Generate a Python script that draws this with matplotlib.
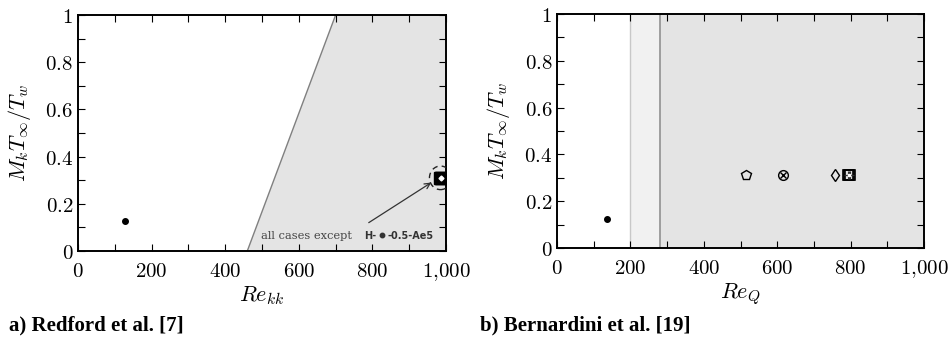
import matplotlib.pyplot as plt
from matplotlib.patches import Polygon, Ellipse
from matplotlib.ticker import MultipleLocator

plt.rcParams['mathtext.fontset'] = 'cm'

# data
xticks = [0, 200, 400, 600, 800, 1000]
xticklabels = ['0', '200', '400', '600', '800', '1{,}000']
yticks = [0, 0.2, 0.4, 0.6, 0.8, 1.0]
yticklabels = ['0', '0.2', '0.4', '0.6', '0.8', '1']

# Redford criterion boundary
redford_x = [460, 700]
redford_y = [0, 1]
redford_pts_x = [128]
redford_pts_y = [0.125]
redford_cluster_x = [983, 985, 987]
redford_cluster_y = [0.31, 0.31, 0.31]

# Bernardini criterion bounds
bern_low, bern_high = 200, 280
bern_pts_x = [135]
bern_pts_y = [0.125]
pent_x, pent_y = [515], [0.31]
otimes_x, otimes_y = [615], [0.31]
diam_x, diam_y = [757], [0.31]
bern_cluster_x = [792, 795, 798]
bern_cluster_y = [0.31, 0.31, 0.31]

fig = plt.figure(figsize=(9.49, 3.41), dpi=100)
ax1 = fig.add_axes([0.0822, 0.264, 0.3878, 0.692])
ax2 = fig.add_axes([0.587, 0.273, 0.3867, 0.686])


def style(ax, xlabel):
    ax.set_xlim(0, 1000)
    ax.set_ylim(0, 1)
    ax.set_xticks(xticks)
    ax.set_xticklabels(['$%s$' % t for t in xticklabels])
    ax.set_yticks(yticks)
    ax.set_yticklabels(['$%s$' % t for t in yticklabels])
    ax.xaxis.set_minor_locator(MultipleLocator(100))
    ax.yaxis.set_minor_locator(MultipleLocator(0.1))
    ax.tick_params(which='both', direction='in', top=True, right=True,
                   labelsize=15, width=0.8, length=5)
    ax.tick_params(axis='x', pad=7)
    for s in ax.spines.values():
        s.set_linewidth(1.4)
    ax.set_xlabel(xlabel, fontsize=16, labelpad=1)
    ax.set_ylabel(r'$M_k T_\infty / T_w$', fontsize=16, labelpad=9)


# panel a
poly = Polygon([(redford_x[0], redford_y[0]), (redford_x[1], redford_y[1]),
                (1000, 1), (1000, 0)], closed=True, facecolor='#e4e4e4',
               edgecolor='none', zorder=0)
ax1.add_patch(poly)
ax1.plot(redford_x, redford_y, color='#808080', lw=1.0, zorder=1)
ax1.plot(redford_pts_x, redford_pts_y, 'o', color='black', ms=4, zorder=3)
ax1.plot(redford_cluster_x, redford_cluster_y, 's', color='black', ms=8,
         mfc='black', zorder=3)
ax1.plot([985], [0.31], 'D', color='white', ms=2.5, zorder=4)
ax1.add_patch(Ellipse((985, 0.31), 60, 0.1, fill=False, ls=(0, (4, 3)),
                      lw=1.0, color='#222222', zorder=3))
ax1.annotate('', xy=(960, 0.29), xytext=(790, 0.12),
             arrowprops=dict(arrowstyle='->', color='#333333', lw=0.9,
                             shrinkA=0, shrinkB=0), zorder=3)
ax1.text(498, 0.065, 'all cases except', fontsize=8.2, color='#444444',
         family='DejaVu Serif', va='center')
ax1.text(777, 0.065, 'H-', fontsize=7, color='#333333', weight='bold',
         family='DejaVu Sans', va='center')
ax1.plot([826], [0.067], 'o', color='#333333', ms=3.2, zorder=3)
ax1.text(840, 0.065, '-0.5-Ae5', fontsize=7, color='#333333', weight='bold',
         family='DejaVu Sans', va='center')
style(ax1, r'$Re_{kk}$')

# panel b
ax2.axvspan(bern_low, bern_high, color='#f1f1f1', zorder=0, lw=0)
ax2.axvspan(bern_high, 1000, color='#e4e4e4', zorder=0, lw=0)
ax2.axvline(bern_low, color='#c8c8c8', lw=1.0, zorder=1)
ax2.axvline(bern_high, color='#909090', lw=1.2, zorder=1)
ax2.plot(bern_pts_x, bern_pts_y, 'o', color='black', ms=4, zorder=3)
ax2.plot(pent_x, pent_y, 'p', mfc='none', mec='black', ms=7, mew=1.0, zorder=3)
ax2.plot(otimes_x, otimes_y, 'o', mfc='none', mec='black', ms=7, mew=1.0, zorder=3)
ax2.plot(otimes_x, otimes_y, 'x', color='black', ms=5, mew=1.0, zorder=3)
ax2.plot(diam_x, diam_y, 'd', mfc='none', mec='black', ms=6, mew=1.0, zorder=3)
ax2.plot(bern_cluster_x, bern_cluster_y, 's', mfc='none', mec='black', ms=7,
         mew=1.2, zorder=3)
ax2.plot(bern_cluster_x, bern_cluster_y, '+', color='#333333', ms=6, mew=0.8, zorder=3)
ax2.plot([795], [0.31], 's', color='white', ms=2, zorder=4)
style(ax2, r'$Re_Q$')

fig.text(0.01, 0.03, 'a) Redford et al. [7]', fontsize=15, weight='bold',
         family='Liberation Serif')
fig.text(0.506, 0.03, 'b) Bernardini et al. [19]', fontsize=15, weight='bold',
         family='Liberation Serif')

fig.savefig('out.png', dpi=100)
